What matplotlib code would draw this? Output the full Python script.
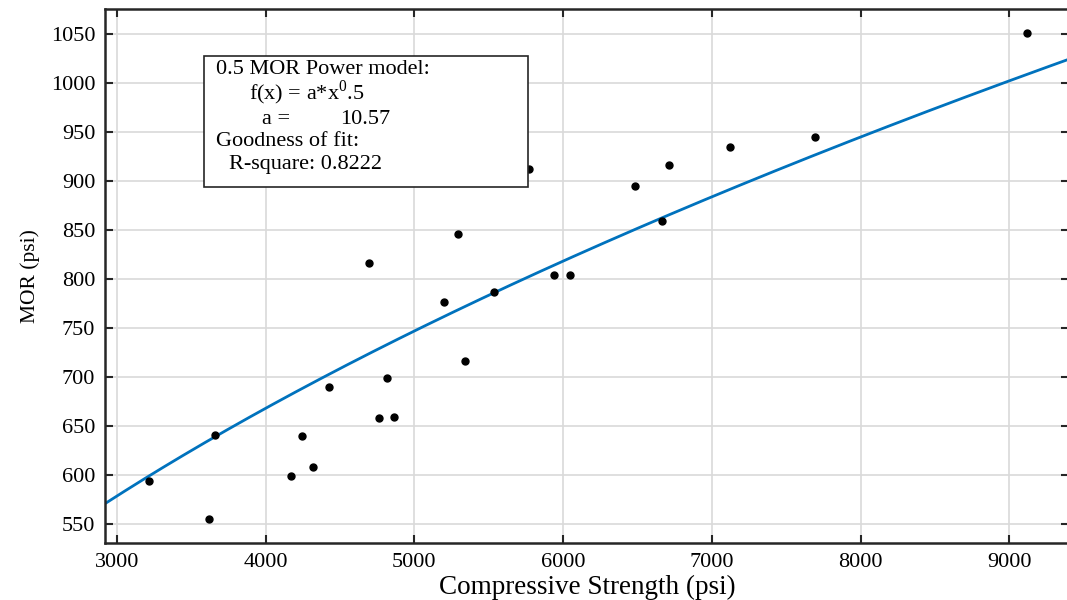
import numpy as np
import matplotlib
matplotlib.use('Agg')
import matplotlib.pyplot as plt
from matplotlib.patches import Rectangle

# Measured data (Compressive strength vs MOR)
compStrength = [3217, 3619, 3659, 4170, 4244, 4320, 4423, 4694, 4764, 4813,
                4860, 5196, 5290, 5337, 5532, 5767, 5940, 6048, 6483, 6666,
                6713, 7119, 7695, 9119]
mor = [594, 555, 641, 599, 640, 609, 690, 817, 659, 699,
       660, 777, 846, 717, 787, 913, 805, 805, 895, 860,
       917, 935, 945, 1052]

# Power model fit: f(x) = a*x^0.5
fitA = 10.57
rSquare = 0.8222

xTicks = [3000, 4000, 5000, 6000, 7000, 8000, 9000]
yTicks = [550, 600, 650, 700, 750, 800, 850, 900, 950, 1000, 1050]
xLim = [2920, 9400]
yLim = [531, 1076]

plt.rcParams['font.family'] = ['Liberation Serif', 'DejaVu Serif']
plt.rcParams['mathtext.fontset'] = 'custom'
plt.rcParams['mathtext.rm'] = 'Liberation Serif'

W, H = 1067, 600
fig = plt.figure(figsize=(W / 100, H / 100), dpi=100)
ax = fig.add_axes([105 / W, 1 - 543 / H, 964 / W, 534 / H])

# Grid
ax.grid(True, color='#d9d9d9', linewidth=1.2, zorder=0)
ax.set_axisbelow(True)

# Fit curve
xs = np.linspace(xLim[0], xLim[1], 300)
ax.plot(xs, fitA * np.sqrt(xs), color='#0072BD', linewidth=2, zorder=2)

# Data points
ax.plot(compStrength, mor, linestyle='none', marker='o', markersize=5,
        color='black', zorder=3)

ax.set_xlim(xLim)
ax.set_ylim(yLim)
ax.set_xticks(xTicks)
ax.set_yticks(yTicks)
ax.tick_params(direction='in', length=6, width=1.5, color='#262626',
               top=True, right=True, labelsize=16, pad=7)
for s in ax.spines.values():
    s.set_linewidth(1.8)
    s.set_color('#262626')

ax.set_xlabel('Compressive Strength (psi)', fontsize=19.5, labelpad=2)
ax.set_ylabel('MOR (psi)', fontsize=15.5, labelpad=8)

# Fit result box
fig.patches.append(Rectangle((204 / W, 1 - 187 / H), 324 / W, 131 / H,
                             transform=fig.transFigure, facecolor='white',
                             edgecolor='#262626', linewidth=1.2, zorder=5))
txt = dict(fontsize=16, va='center', ha='left', zorder=6)
fig.text(216 / W, 1 - 70 / H, '0.5 MOR Power model:', **txt)
fig.text(249 / W, 1 - 93 / H, r'f(x) = a*x$^{\mathrm{0}}$.5', **txt)
fig.text(262 / W, 1 - 120 / H, 'a =', **txt)
fig.text(340 / W, 1 - 120 / H, '%.2f' % fitA, **txt)
fig.text(216 / W, 1 - 142 / H, 'Goodness of fit:', **txt)
fig.text(229 / W, 1 - 164 / H, 'R-square: %.4f' % rSquare, **txt)

plt.savefig('out.png', dpi=100)
